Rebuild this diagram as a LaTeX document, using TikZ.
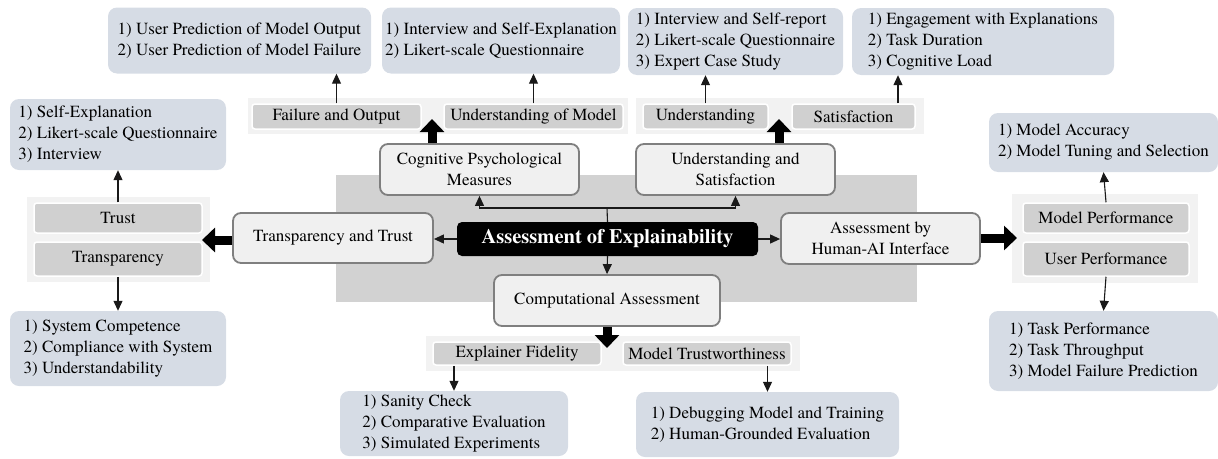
\documentclass[tikz,border=0pt]{standalone}
\usepackage{fontspec}
\setmainfont{texgyretermes}[Extension=.otf,UprightFont=*-regular,BoldFont=*-bold]
\usetikzlibrary{arrows.meta}
\definecolor{listblue}{HTML}{D6DCE5}
\definecolor{panelgray}{HTML}{F2F2F2}
\definecolor{subgray}{HTML}{D0D0D0}
\definecolor{backgray}{HTML}{D2D2D2}
\definecolor{boxgray}{HTML}{F0F0F0}
\definecolor{edgegray}{HTML}{7F7F7F}
\begin{document}
\begin{tikzpicture}[x=1pt,y=-1pt,
    font=\rmfamily\fontsize{17}{21}\selectfont,
    listbox/.style={fill=listblue,rounded corners=9pt,align=left,inner sep=2pt},
    subbox/.style={fill=subgray,draw=white,line width=1.5pt,rounded corners=3pt,inner sep=0pt},
    mainbox/.style={fill=boxgray,draw=edgegray,line width=1.8pt,rounded corners=8pt,align=center,inner sep=0pt},
    arr/.style={draw=black!90,line width=1.1pt,-{Triangle[width=9pt,length=10pt]}},
    bigarr/.style={line width=9pt,-{Triangle[width=24pt,length=13pt]}}]
  \useasboundingbox (0,0) rectangle (1218,458);
  % backgrounds
  \fill[backgray] (336,175) rectangle (917,302);
  \fill[panelgray] (248,98) rectangle (628,134);
  \fill[panelgray] (636,98) rectangle (924,134);
  \fill[panelgray] (27,197) rectangle (210,282);
  \fill[panelgray] (1012,194) rectangle (1198,283);
  \fill[panelgray] (426,336) rectangle (800,371);
  % lists
  \node[listbox,minimum width=263pt,minimum height=66pt] (lp1) at (239.5,40.5) {1) User Prediction of Model Output\\2) User Prediction of Model Failure};
  \node[listbox,minimum width=238pt,minimum height=66pt] (lp2) at (501,40.5) {1) Interview and Self-Explanation\\2) Likert-scale Questionnaire};
  \node[listbox,minimum width=215pt,minimum height=67pt] (lp3) at (735.5,41.5) {1) Interview and Self-report\\2) Likert-scale Questionnaire\\3) Expert Case Study};
  \node[listbox,minimum width=262pt,minimum height=67pt] (lp4) at (983,41.5) {1) Engagement with Explanations\\2) Task Duration\\3) Cognitive Load};
  \node[listbox,minimum width=216pt,minimum height=71pt] (lq1) at (118,134.5) {1) Self-Explanation\\2) Likert-scale Questionnaire\\3) Interview};
  \node[listbox,minimum width=216pt,minimum height=75pt] (lq2) at (118,348.5) {1) System Competence\\2) Compliance with System\\3) Understandability};
  \node[listbox,minimum width=229pt,minimum height=59pt] (lr1) at (1103.5,142.5) {1) Model Accuracy\\2) Model Tuning and Selection};
  \node[listbox,minimum width=229pt,minimum height=80pt] (lr2) at (1103.5,351) {1) Task Performance\\2) Task Throughput\\3) Model Failure Prediction};
  \node[listbox,minimum width=228pt,minimum height=65pt] (lb1) at (454,423.5) {1) Sanity Check\\2) Comparative Evaluation\\3) Simulated Experiments};
  \node[listbox,minimum width=263pt,minimum height=65pt] (lb2) at (767.5,424.5) {1) Debugging Model and Training\\2) Human-Grounded Evaluation};
  % measures
  \node[subbox,minimum width=169pt,minimum height=25pt] (fo) at (336.5,116.5) {Failure and Output};
  \node[subbox,minimum width=179pt,minimum height=25pt] (um) at (533.5,116.5) {Understanding of Model};
  \node[subbox,minimum width=125pt,minimum height=25pt] (un) at (705.5,116.5) {Understanding};
  \node[subbox,minimum width=123pt,minimum height=25pt] (sat) at (853.5,116.5) {Satisfaction};
  \node[subbox,minimum width=168pt,minimum height=30pt] (trust) at (118,218) {Trust};
  \node[subbox,minimum width=168pt,minimum height=34pt] (transp) at (118,259) {Transparency};
  \node[subbox,minimum width=166pt,minimum height=30pt] (mp) at (1106,218) {Model Performance};
  \node[subbox,minimum width=166pt,minimum height=34pt] (up) at (1106,259) {User Performance};
  \node[subbox,minimum width=168pt,minimum height=23pt] (ef) at (517,353.5) {Explainer Fidelity};
  \node[subbox,minimum width=168pt,minimum height=23pt] (mt) at (707,353.5) {Model Trustworthiness};
  % assessments
  \node[mainbox,minimum width=199pt,minimum height=51pt] (cog) at (479.5,169.5) {Cognitive Psychological\\Measures};
  \node[mainbox,minimum width=199pt,minimum height=51pt] (uns) at (735.5,169.5) {Understanding and\\Satisfaction};
  \node[mainbox,minimum width=200pt,minimum height=50pt] (tt) at (333,238) {Transparency and Trust};
  \node[mainbox,minimum width=199pt,minimum height=51pt] (hai) at (880.5,238.5) {Assessment by\\Human-AI Interface};
  \node[mainbox,minimum width=226pt,minimum height=51pt] (comp) at (607,300.5) {Computational Assessment};
  \node[fill=black,text=white,rounded corners=5pt,minimum width=301pt,minimum height=34pt,inner sep=0pt,
    font=\rmfamily\fontsize{20.5}{24}\selectfont\bfseries] (title) at (607.5,239) {Assessment of Explainability};
  % connectors
  \coordinate (split) at (607,208);
  \draw[draw=black!90,line width=1.1pt] (title.north) -- (split);
  \draw[arr] (split) -| (cog.south);
  \draw[arr] (split) -| (uns.south);
  \draw[arr] (title.west) -- (title.west -| tt.east);
  \draw[arr] (title.east) -- (title.east -| hai.west);
  \draw[arr] (title.south) -- (comp.north);
  \coordinate (cogtip) at (432,119);
  \coordinate (unstip) at (779,119);
  \coordinate (tttip) at (202,240);
  \coordinate (haitip) at (1017,238);
  \coordinate (comptip) at (607,348);
  \draw[bigarr] (cog.north -| cogtip) -- (cogtip);
  \draw[bigarr] (uns.north -| unstip) -- (unstip);
  \draw[bigarr] (tt.west |- tttip) -- (tttip);
  \draw[bigarr] (hai.east |- haitip) -- (haitip);
  \draw[bigarr] (comp.south) -- (comptip);
  \draw[arr] (fo.north) -- (lp1.south -| fo.north);
  \draw[arr] (um.north) -- (um.north |- lp2.south);
  \draw[arr] (un.north) -- (un.north |- lp3.south);
  \coordinate (satx) at (898,0);
  \draw[arr] (sat.north -| satx) -- (lp4.south -| satx);
  \draw[arr] (trust.north) -- (lq1.south);
  \draw[arr] (transp.south) -- (lq2.north);
  \draw[arr] (mp.north) -- (lr1.south);
  \draw[arr] (up.south) -- (lr2.north);
  \draw[arr] (lb1.north |- ef.south) -- (lb1.north);
  \draw[arr] (lb2.north |- mt.south) -- (lb2.north);
\end{tikzpicture}
\end{document}
